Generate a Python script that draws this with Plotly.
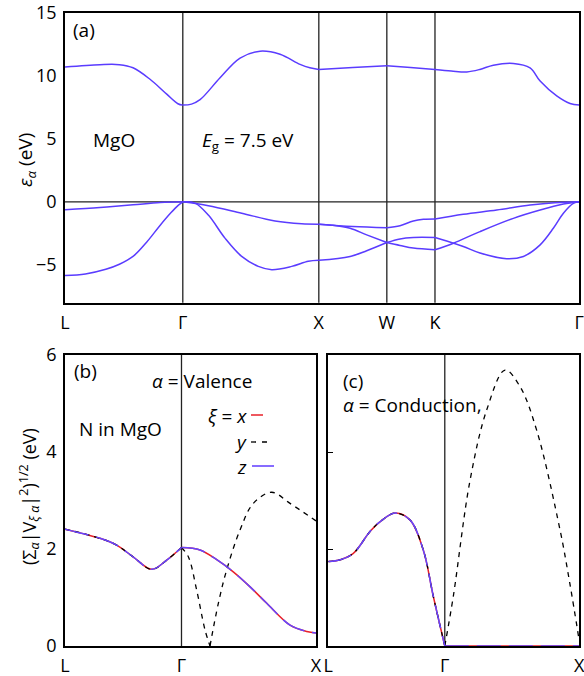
import plotly.graph_objects as go

W, H = 584, 676

# ---------------- data ----------------
# high-symmetry points along the path (units of 2*pi/a)
k_sym = [0.0, 0.866, 1.866, 2.366, 2.720, 3.781]
sym_labels = ["L", "Γ", "X", "W", "K", "Γ"]

# ---- panel (a): MgO band structure, segment by segment ----
# L–Γ
k_LG_c = [0, 0.257, 0.40, 0.50, 0.625, 0.748, 0.83, 0.866]
e_LG_c = [10.7, 10.88, 10.88, 10.63, 9.72, 8.54, 7.78, 7.67]
k_LG_v1 = [0, 0.257, 0.5, 0.70, 0.866]
e_LG_v1 = [-0.63, -0.45, -0.24, -0.06, 0.0]
k_LG_v2 = [0, 0.15, 0.30, 0.40, 0.5, 0.6, 0.7, 0.78, 0.83, 0.866]
e_LG_v2 = [-5.85, -5.72, -5.35, -4.95, -4.33, -3.2, -1.85, -0.85, -0.3, 0.0]
# Γ–X
k_GX_c = [0.866, 0.93, 0.993, 1.140, 1.287, 1.434, 1.581, 1.728, 1.80, 1.866]
e_GX_c = [7.67, 7.75, 8.1, 9.84, 11.4, 11.95, 11.7, 10.9, 10.63, 10.5]
k_GX_v1 = [0.866, 1.054, 1.299, 1.544, 1.740, 1.866]
e_GX_v1 = [0.0, -0.31, -0.91, -1.52, -1.74, -1.77]
k_GX_v2 = [0.866, 0.956, 1.054, 1.176, 1.299, 1.421, 1.520, 1.667, 1.789, 1.866]
e_GX_v2 = [0.0, -0.1, -1.05, -2.88, -4.33, -5.12, -5.38, -5.12, -4.72, -4.64]
# X–W
k_XW_c = [1.866, 2.116, 2.366]
e_XW_c = [10.5, 10.65, 10.8]
k_XW_v1 = [1.866, 2.116, 2.366]
e_XW_v1 = [-1.77, -1.95, -2.05]
k_XW_v2 = [1.866, 1.96, 2.096, 2.218, 2.366]
e_XW_v2 = [-1.77, -1.85, -2.1, -2.62, -3.23]
k_XW_v3 = [1.866, 2.096, 2.218, 2.366]
e_XW_v3 = [-4.64, -4.33, -3.88, -3.23]
# W–K
k_WK_c = [2.366, 2.54, 2.720]
e_WK_c = [10.8, 10.65, 10.5]
k_WK_v1 = [2.366, 2.463, 2.561, 2.635, 2.720]
e_WK_v1 = [-2.05, -1.89, -1.52, -1.39, -1.36]
k_WK_v2 = [2.366, 2.463, 2.561, 2.720]
e_WK_v2 = [-3.23, -3.46, -3.67, -3.8]
k_WK_v3 = [2.366, 2.463, 2.561, 2.720]
e_WK_v3 = [-3.23, -2.94, -2.83, -2.83]
# K–Γ
k_KG_c = [2.720, 2.84, 2.954, 3.05, 3.149, 3.296, 3.419, 3.493, 3.615, 3.713, 3.781]
e_KG_c = [10.5, 10.38, 10.3, 10.5, 10.84, 10.98, 10.63, 9.58, 8.4, 7.8, 7.67]
k_KG_v1 = [2.720, 2.928, 3.174, 3.419, 3.60, 3.781]
e_KG_v1 = [-1.36, -0.99, -0.65, -0.26, -0.07, 0.0]
k_KG_v2 = [2.720, 2.806, 2.928, 3.051, 3.247, 3.370, 3.493, 3.590, 3.664, 3.737, 3.781]
e_KG_v2 = [-2.83, -3.1, -3.54, -4.06, -4.51, -4.33, -3.41, -2.1, -0.91, -0.13, 0.0]
k_KG_v3 = [2.720, 2.855, 3.051, 3.296, 3.493, 3.664, 3.781]
e_KG_v3 = [-3.8, -3.28, -2.36, -1.31, -0.65, -0.18, 0.0]

# ---- panel (b): valence couplings (L–Γ–X) ----
kb_path = [0.0, 0.866, 1.866]
kb_LG = [0, 0.260, 0.384, 0.506, 0.645, 0.756, 0.866]
vb_LG = [2.41, 2.22, 2.08, 1.84, 1.58, 1.77, 2.03]       # x = y = z
kb_GX_xz = [0.866, 1.004, 1.128, 1.251, 1.376, 1.500, 1.673, 1.797, 1.866]
vb_GX_xz = [2.03, 1.98, 1.78, 1.53, 1.22, 0.88, 0.43, 0.30, 0.27]
kb_GX_y1 = [0.866, 0.917, 0.979, 1.041, 1.078]
vb_GX_y1 = [2.03, 1.84, 1.15, 0.33, 0.0]
kb_GX_y2 = [1.078, 1.140, 1.202, 1.301, 1.400, 1.537, 1.673, 1.866]
vb_GX_y2 = [0.0, 0.88, 1.57, 2.39, 2.94, 3.17, 2.94, 2.58]

# ---- panel (c): conduction couplings ----
kc_LG = [0, 0.09, 0.186, 0.310, 0.384, 0.496, 0.607, 0.706, 0.781, 0.866]
vc_LG = [1.74, 1.78, 1.91, 2.36, 2.56, 2.74, 2.6, 1.98, 1.02, 0.0]   # x = y = z
kc_GX_y = [0.866, 0.929, 1.054, 1.178, 1.314, 1.425, 1.549, 1.723, 1.795, 1.866]
vc_GX_y = [0.0, 1.02, 3.42, 4.87, 5.69, 5.35, 4.45, 2.39, 1.3, 0.1]
kc_GX_xz = [0.866, 1.866]
vc_GX_xz = [0.0, 0.0]

# ---------------- styling ----------------
FONT = "Open Sans"
BAND = "#5a3cff"
RED = "#e8202a"
BLUE = "#6446ff"

fig = go.Figure()


def band(k, e):
    fig.add_trace(go.Scatter(x=k, y=e, mode="lines", xaxis="x", yaxis="y",
                             line=dict(color=BAND, width=1.5, shape="spline", smoothing=1.0),
                             showlegend=False, hoverinfo="skip"))


for k, e in [(k_LG_c, e_LG_c), (k_LG_v1, e_LG_v1), (k_LG_v2, e_LG_v2),
             (k_GX_c, e_GX_c), (k_GX_v1, e_GX_v1), (k_GX_v2, e_GX_v2),
             (k_XW_c, e_XW_c), (k_XW_v1, e_XW_v1), (k_XW_v2, e_XW_v2), (k_XW_v3, e_XW_v3),
             (k_WK_c, e_WK_c), (k_WK_v1, e_WK_v1), (k_WK_v2, e_WK_v2), (k_WK_v3, e_WK_v3),
             (k_KG_c, e_KG_c), (k_KG_v1, e_KG_v1), (k_KG_v2, e_KG_v2), (k_KG_v3, e_KG_v3)]:
    band(k, e)


def comp(k, v, ax, which):
    xa, ya = ax
    if which == "x":
        ln = dict(color=RED, width=1.5, shape="spline", smoothing=1.0)
    elif which == "y":
        ln = dict(color="black", width=1.3, dash="5px,5px", shape="spline", smoothing=1.0)
    else:
        ln = dict(color=BLUE, width=1.5, dash="24px,8px", shape="spline", smoothing=1.0)
    fig.add_trace(go.Scatter(x=k, y=v, mode="lines", xaxis=xa, yaxis=ya, line=ln,
                             showlegend=False, hoverinfo="skip"))


B = ("x2", "y2")
C = ("x3", "y3")
# panel b: x (bottom), y, z (top)
comp(kb_LG, vb_LG, B, "x")
comp(kb_GX_xz, vb_GX_xz, B, "x")
comp(kb_LG, vb_LG, B, "y")
comp(kb_GX_y1, vb_GX_y1, B, "y")
comp(kb_GX_y2, vb_GX_y2, B, "y")
comp(kb_LG, vb_LG, B, "z")
comp(kb_GX_xz, vb_GX_xz, B, "z")
# panel c
comp(kc_LG, vc_LG, C, "x")
comp(kc_GX_xz, vc_GX_xz, C, "x")
comp(kc_LG, vc_LG, C, "y")
comp(kc_GX_y, vc_GX_y, C, "y")
comp(kc_LG, vc_LG, C, "z")
comp(kc_GX_xz, vc_GX_xz, C, "z")


def px(x):
    return x / W


def py(y):
    return 1 - y / H


tickfont = dict(family=FONT, size=18, color="black")
frame = dict(showline=True, mirror=True, linecolor="black", linewidth=1.5,
             showgrid=False, zeroline=False, tickfont=tickfont, automargin=False,
             ticklabeloverflow="allow")

fig.update_layout(
    width=W, height=H, margin=dict(l=0, r=0, t=0, b=0, autoexpand=False),
    paper_bgcolor="white", plot_bgcolor="white", showlegend=False,
    font=dict(family=FONT, size=19, color="black"),
    xaxis=dict(domain=[px(65), px(579.3)], range=[k_sym[0], k_sym[-1]], anchor="y",
               tickvals=k_sym, ticktext=sym_labels, ticks="outside", ticklen=3,
               tickcolor="rgba(0,0,0,0)", **frame),
    yaxis=dict(domain=[py(302.7), py(12.7)], range=[-8, 15], anchor="x",
               tickvals=[-5, 0, 5, 10, 15], ticks="outside", ticklen=3,
               tickcolor="rgba(0,0,0,0)", **frame),
    xaxis2=dict(domain=[px(65), px(316)], range=[kb_path[0], kb_path[-1]], anchor="y2",
                tickvals=kb_path, ticktext=["L", "Γ", "X"], ticks="outside", ticklen=3,
                tickcolor="rgba(0,0,0,0)", **frame),
    yaxis2=dict(domain=[py(646), py(355)], range=[0, 6], anchor="x2",
                tickvals=[0, 2, 4, 6], ticks="outside", ticklen=3,
                tickcolor="rgba(0,0,0,0)", **frame),
    xaxis3=dict(domain=[px(328.3), px(579.3)], range=[kb_path[0], kb_path[-1]], anchor="y3",
                tickvals=kb_path, ticktext=["L", "Γ", "X"], ticks="outside", ticklen=3,
                tickcolor="rgba(0,0,0,0)", **frame),
    yaxis3=dict(domain=[py(646), py(355)], range=[0, 6], anchor="x3",
                tickvals=[2, 4], ticks="inside", ticklen=5, tickcolor="black",
                showticklabels=False, **frame),
)

shapes = []
for kv in k_sym[1:5]:
    shapes.append(dict(type="line", xref="x", yref="y domain", x0=kv, x1=kv, y0=0, y1=1,
                       line=dict(color="#222", width=1.3), layer="below"))
shapes.append(dict(type="line", xref="x domain", yref="y", x0=0, x1=1, y0=0, y1=0,
                   line=dict(color="#222", width=1.3), layer="below"))
for xr, yr in [("x2", "y2 domain"), ("x3", "y3 domain")]:
    shapes.append(dict(type="line", xref=xr, yref=yr, x0=kb_path[1], x1=kb_path[1], y0=0, y1=1,
                       line=dict(color="#222", width=1.3), layer="below"))
# legend samples
shapes.append(dict(type="line", xref="paper", yref="paper", x0=px(251), x1=px(263),
                   y0=py(415), y1=py(415), line=dict(color=RED, width=1.5)))
shapes.append(dict(type="line", xref="paper", yref="paper", x0=px(251), x1=px(273),
                   y0=py(442), y1=py(442), line=dict(color="black", width=1.3, dash="5px,6px")))
shapes.append(dict(type="line", xref="paper", yref="paper", x0=px(252), x1=px(274),
                   y0=py(466), y1=py(466), line=dict(color="#7a5cff", width=1.8)))
fig.update_layout(shapes=shapes)


def txt(s, x, y, xanchor="left", size=19, angle=0):
    fig.add_annotation(text=s, x=px(x), y=py(y), xref="paper", yref="paper",
                       xanchor=xanchor, yanchor="middle", showarrow=False,
                       textangle=angle, font=dict(family=FONT, size=size, color="black"))


txt("(a)", 71, 30)
txt("MgO", 91, 140)
txt("<i>E</i><sub>g</sub> = 7.5 eV", 200, 141)
txt("(b)", 72, 371)
txt("<i>α</i> = Valence", 150, 381)
txt("N in MgO", 77, 429)
txt("<i>ξ</i> = <i>x</i>", 249, 416, xanchor="right")
txt("<i>y</i>", 249, 442, xanchor="right")
txt("<i>z</i>", 249, 467, xanchor="right")
txt("(c)", 341, 381)
txt("<i>α</i> = Conduction,", 341, 405)
fig.add_annotation(text="<i>ε</i><sub><i>α</i></sub> (eV)", x=px(26), y=py(160),
                   xref="paper", yref="paper", xanchor="center", yanchor="middle",
                   showarrow=False, textangle=-90, font=dict(family=FONT, size=19))
fig.add_annotation(text="(Σ<sub><i>α</i></sub>|V<sub><i>ξ α</i></sub>|<sup>2</sup>)<sup>1/2</sup> (eV)",
                   x=px(29), y=py(497), xref="paper", yref="paper", xanchor="center",
                   yanchor="middle", showarrow=False, textangle=-90,
                   font=dict(family=FONT, size=18))

fig.write_html("out.html", config={"displayModeBar": False},
               post_script="document.body.style.margin='0';document.body.style.overflow='hidden';")
